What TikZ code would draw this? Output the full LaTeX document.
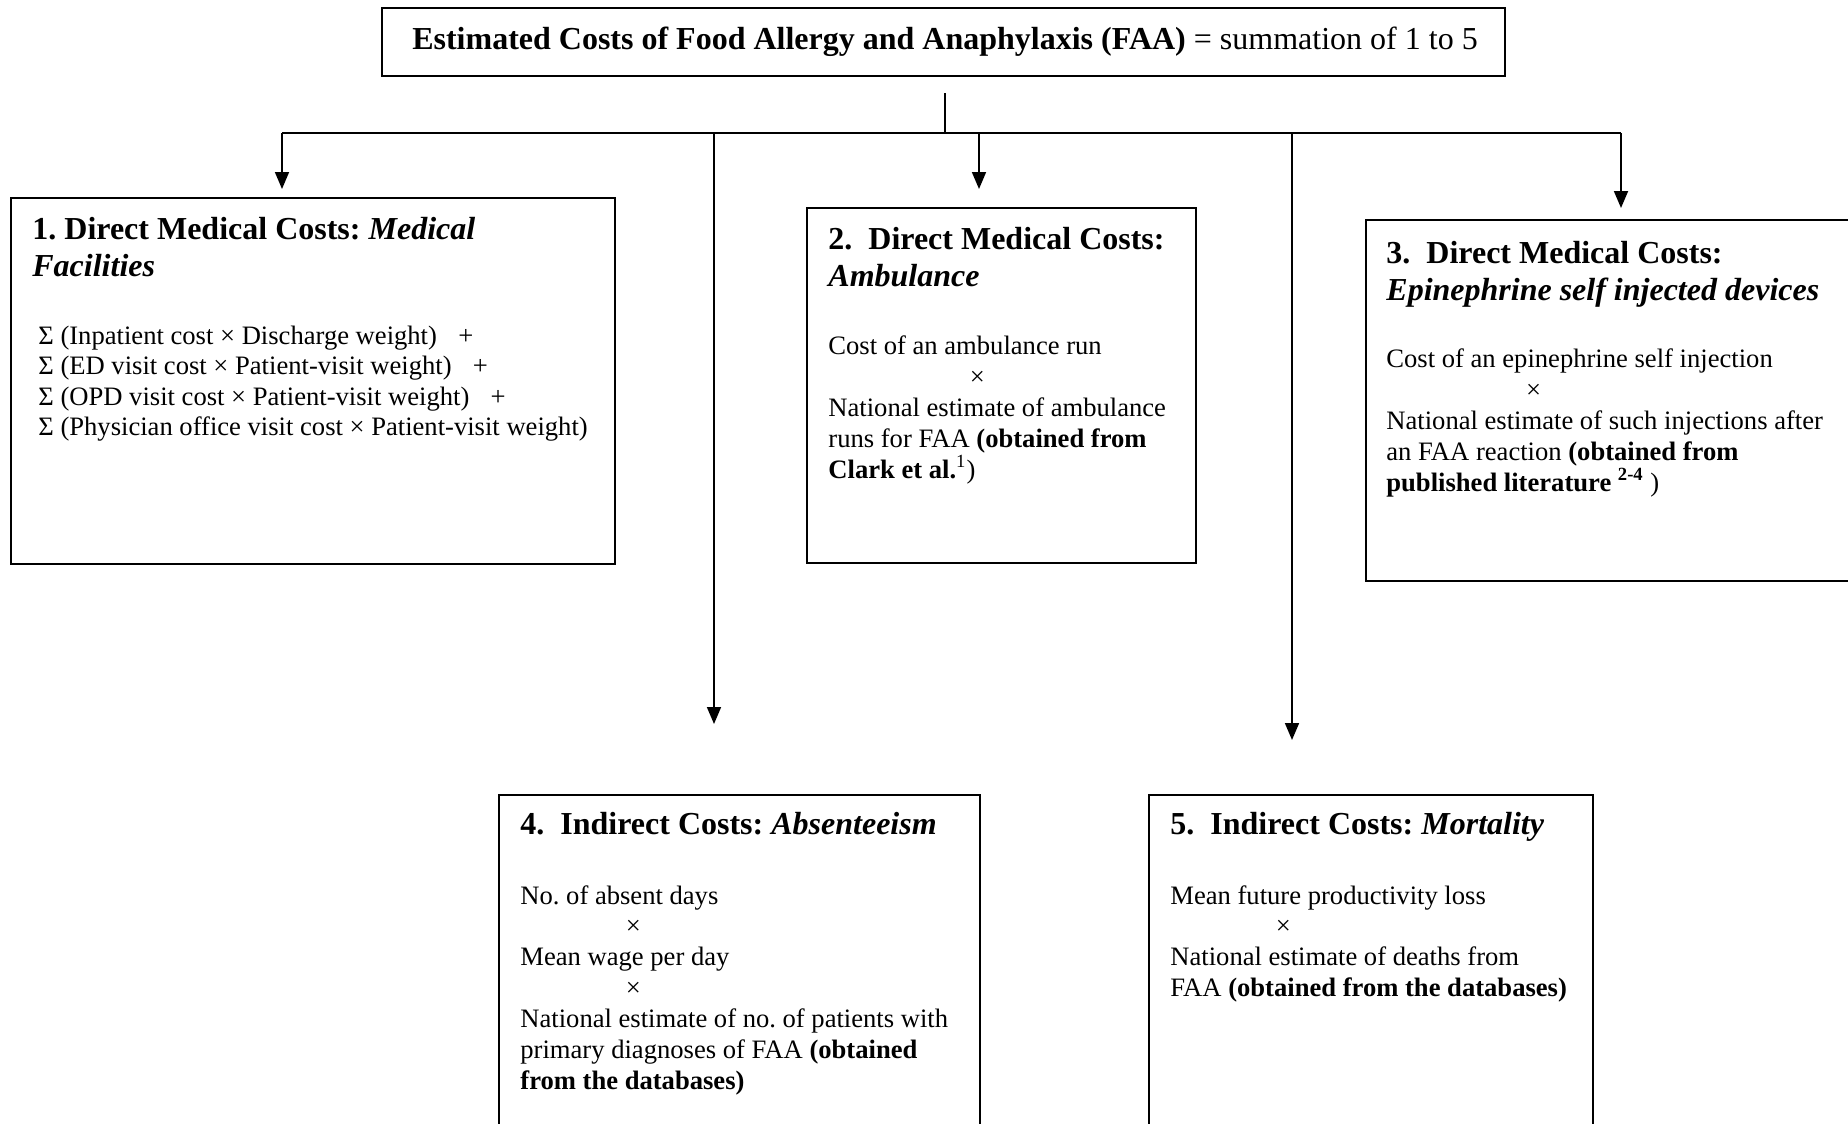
\documentclass[tikz,border=0pt]{standalone}
\usepackage{fontspec}
\setmainfont{Liberation Serif}
\usetikzlibrary{arrows.meta}
\frenchspacing

% font sizes for box text
\newcommand\cbody{\fontsize{13.3}{15.45}\selectfont}
\newcommand\chead{\fontsize{16}{18.6}\selectfont}

\begin{document}
\begin{tikzpicture}[x=0.5pt,y=-0.5pt,
  costbox/.style={draw=black, line width=0.9pt, fill=none, inner sep=0pt},
  txt/.style={inner sep=0pt, anchor=base west},
  link/.style={line width=0.85pt},
  arr/.style={line width=0.85pt, -{Triangle[length=8.5pt,width=7pt]}}]

\useasboundingbox (0,0) rectangle (1848,1124);
\fill[white] (0,0) rectangle (1848,1124);

% top box
\node[costbox, minimum width=561.5pt, minimum height=34pt] (top) at (943.5,42) {};
\node[inner sep=0pt, anchor=base] (toptext) at (945,49.5)
  {\chead\textbf{Estimated Costs of Food Allergy and Anaphylaxis (FAA)} = summation of 1 to 5};

% cost boxes
\node[costbox, minimum width=302pt,  minimum height=183pt]   (b1) at (313,381) {};
\node[costbox, minimum width=194.5pt, minimum height=177.5pt] (b2) at (1001.5,385.5) {};
\node[costbox, minimum width=252pt,  minimum height=180.5pt] (b3) at (1618,400.5) {};
\node[costbox, minimum width=240.5pt, minimum height=177.5pt] (b4) at (739.5,972.5) {};
\node[costbox, minimum width=222pt,  minimum height=177.5pt] (b5) at (1371,972.5) {};

% box 1
\node[txt] (h1) at (32,239) {\parbox[t]{300pt}{\chead\raggedright
  \textbf{1. Direct Medical Costs: \textit{Medical}}\\
  \textbf{\textit{Facilities}}}};
\node[txt] (t1) at (38,344) {\parbox[t]{300pt}{\fontsize{13.3}{15.3}\selectfont\raggedright
  Σ (Inpatient cost × Discharge weight)\hspace{0.8em}+\\
  Σ (ED visit cost × Patient-visit weight)\hspace{0.8em}+\\
  Σ (OPD visit cost × Patient-visit weight)\hspace{0.8em}+\\
  Σ (Physician office visit cost × Patient-visit weight)}};

% box 2
\node[txt] (h2) at (828,249) {\parbox[t]{190pt}{\chead\raggedright
  \textbf{2.\ \ Direct Medical Costs:}\\
  \textbf{\textit{Ambulance}}}};
\node[txt] (t2) at (828,354.5) {\parbox[t]{190pt}{\cbody\raggedright
  Cost of an ambulance run\\
  \hspace*{70.7pt}×\\
  National estimate of ambulance\\
  runs for FAA \textbf{(obtained from}\\
  \textbf{Clark et al.}\textsuperscript{1})}};

% box 3
\node[txt] (h3) at (1386,263) {\parbox[t]{240pt}{\chead\raggedright
  \textbf{3.\ \ Direct Medical Costs:}\\
  \textbf{\textit{Epinephrine self injected devices}}}};
\node[txt] (t3) at (1386,367.5) {\parbox[t]{240pt}{\cbody\raggedright
  Cost of an epinephrine self injection\\
  \hspace*{69.8pt}×\\
  National estimate of such injections after\\
  an FAA reaction \textbf{(obtained from}\\
  \textbf{published literature \textsuperscript{2-4}} )}};

% box 4
\node[txt] (h4) at (520,834) {\chead\textbf{4.\ \ Indirect Costs: \textit{Absenteeism}}};
\node[txt] (t4) at (520,904) {\parbox[t]{235pt}{\cbody\raggedright
  No. of absent days\\
  \hspace*{52.7pt}×\\
  Mean wage per day\\
  \hspace*{52.7pt}×\\
  National estimate of no. of patients with\\
  primary diagnoses of FAA \textbf{(obtained}\\
  \textbf{from the databases)}}};

% box 5
\node[txt] (h5) at (1170,834) {\chead\textbf{5.\ \ Indirect Costs: \textit{Mortality}}};
\node[txt] (t5) at (1170,904) {\parbox[t]{215pt}{\cbody\raggedright
  Mean future productivity loss\\
  \hspace*{52.7pt}×\\
  National estimate of deaths from\\
  FAA \textbf{(obtained from the databases)}}};

% connector tree
\coordinate (stemtop) at (945,93);
\coordinate (stem) at (945,133);
\coordinate (j1) at (282,133);
\coordinate (j4) at (714,133);
\coordinate (j2) at (979,133);
\coordinate (j5) at (1292,133);
\coordinate (j3) at (1621,133);
\coordinate (e1) at (282,189);
\coordinate (e2) at (979,189);
\coordinate (e3) at (1621,208);
\coordinate (e4) at (714,724);
\coordinate (e5) at (1292,740);

\draw[link] (stemtop) -- (stem);
\draw[link] (j1) -- (j3);
\draw[arr] (j1) -- (e1);
\draw[arr] (j2) -- (e2);
\draw[arr] (j3) -- (e3);
\draw[arr] (j4) -- (e4);
\draw[arr] (j5) -- (e5);
\end{tikzpicture}
\end{document}
